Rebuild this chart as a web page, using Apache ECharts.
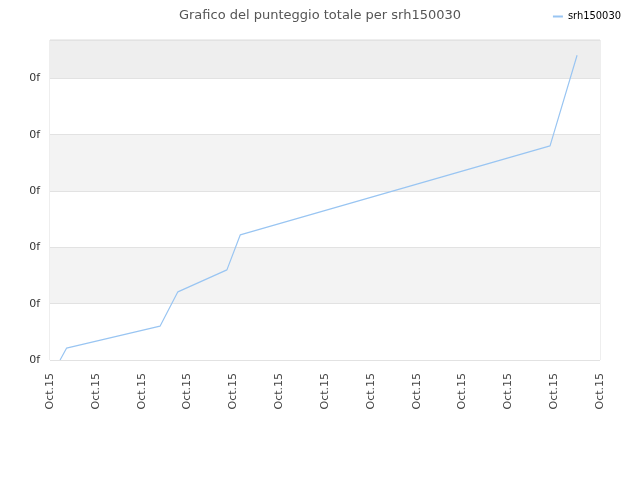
<!DOCTYPE html>
<html>
<head>
<meta charset="utf-8">
<script src="https://cdn.jsdelivr.net/npm/echarts@6/dist/echarts.min.js"></script>
<style>
    html, body { margin: 0; padding: 0; background: #fff; }
    #chart { width: 640px; height: 480px; }
</style>
</head>
<body>
<div id="chart"></div>
<script>
// posizione sull'asse x (0 = prima etichetta, 12 = ultima) e punteggio
var xValues = [0.22, 0.36, 2.40, 2.79, 3.86, 4.15, 10.91, 11.50];
var scores = [0, 0.21, 0.60, 1.21, 1.60, 2.22, 3.80, 5.41];
var xTickLabel = 'Oct.15';
var yTickLabel = '0f';
var seriesName = 'srh150030';

(function () {
    var chart = echarts.init(document.getElementById('chart'));

    var points = xValues.map(function (x, i) {
        return [x, scores[i]];
    });

    var option = {
        backgroundColor: '#fff',
        textStyle: { fontFamily: 'DejaVu Sans' },
        title: {
            text: 'Grafico del punteggio totale per ' + seriesName,
            left: 'center',
            top: 4,
            textStyle: {
                fontSize: 13,
                fontWeight: 'normal',
                color: '#555',
                fontFamily: 'DejaVu Sans'
            }
        },
        legend: {
            right: 14,
            top: 6,
            icon: 'rect',
            itemWidth: 10,
            itemHeight: 2,
            itemGap: 6,
            textStyle: { fontSize: 11, color: '#000', fontFamily: 'DejaVu Sans Condensed' },
            data: [seriesName]
        },
        grid: {
            left: 50,
            right: 40,
            top: 40,
            bottom: 120,
            show: true,
            borderColor: '#ddd',
            borderWidth: 1
        },
        xAxis: {
            type: 'value',
            min: 0,
            max: 12,
            interval: 1,
            axisLine: { show: false },
            axisTick: { show: false },
            splitLine: { show: false },
            axisLabel: {
                rotate: 90,
                fontSize: 11,
                color: '#444',
                margin: 13,
                formatter: function () { return xTickLabel; }
            }
        },
        yAxis: {
            type: 'value',
            min: 0,
            max: 5.68,
            interval: 1,
            axisLine: { show: false },
            axisTick: { show: false },
            axisLabel: {
                fontSize: 11,
                color: '#333',
                margin: 10,
                showMaxLabel: false,
                formatter: function () { return yTickLabel; }
            },
            splitLine: { lineStyle: { color: '#e2e2e2' } },
            splitArea: {
                show: true,
                areaStyle: {
                    color: ['#fff', '#f3f3f3', '#fff', '#f3f3f3', '#fff', '#eeeeee']
                }
            }
        },
        series: [
            {
                name: seriesName,
                type: 'line',
                data: points,
                symbol: 'none',
                color: '#99c5f2',
                lineStyle: { width: 1.2, color: '#99c5f2' }
            }
        ]
    };

    chart.setOption(option);
})();
</script>
</body>
</html>
